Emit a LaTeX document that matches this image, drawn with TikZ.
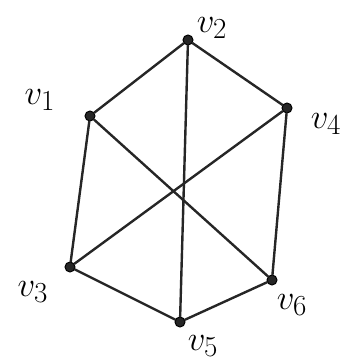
\documentclass[tikz,border=0pt]{standalone}
\newcommand{\vlab}[1]{\scalebox{1.4}{\Huge$v_{#1}$}}
\begin{document}
\begin{tikzpicture}[x=1pt,y=-1pt,
  vtx/.style={circle,fill=black!85,draw=black,line width=1pt,inner sep=0pt,minimum size=10pt},
  edge/.style={line width=2.4pt,black!85,line cap=round},
  lbl/.style={inner sep=0pt}]
\useasboundingbox (0,0) rectangle (347,364);
\node[vtx] (v2) at (188,40) {};
\node[vtx] (v1) at (90,116) {};
\node[vtx] (v4) at (287,108) {};
\node[vtx] (v3) at (70,267) {};
\node[vtx] (v6) at (272,280) {};
\node[vtx] (v5) at (180,322) {};
\node[lbl] (l1) at (40,100) {\vlab{1}};
\node[lbl] (l2) at (212,28) {\vlab{2}};
\node[lbl] (l4) at (326,124) {\vlab{4}};
\node[lbl] (l3) at (33,292) {\vlab{3}};
\node[lbl] (l6) at (292,305) {\vlab{6}};
\node[lbl] (l5) at (203,346) {\vlab{5}};
\draw[edge] (v1) -- (v2);
\draw[edge] (v2) -- (v4);
\draw[edge] (v2) -- (v5);
\draw[edge] (v1) -- (v3);
\draw[edge] (v1) -- (v6);
\draw[edge] (v4) -- (v3);
\draw[edge] (v4) -- (v6);
\draw[edge] (v3) -- (v5);
\draw[edge] (v5) -- (v6);
\end{tikzpicture}
\end{document}
